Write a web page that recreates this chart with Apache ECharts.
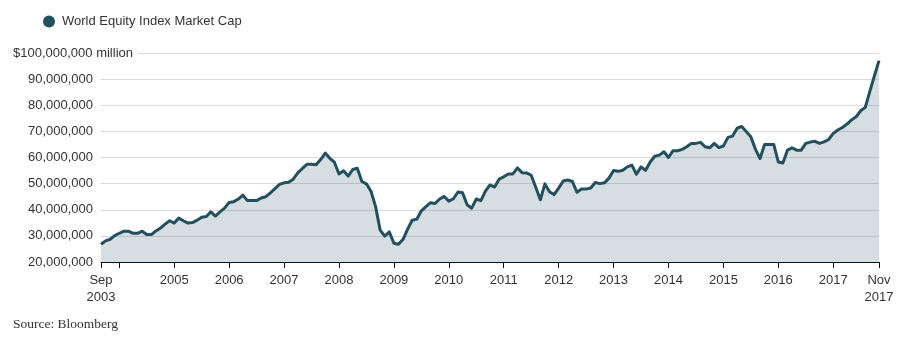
<!DOCTYPE html>
<html>
<head>
<meta charset="utf-8">
<script src="https://cdn.jsdelivr.net/npm/echarts@6/dist/echarts.min.js"></script>
<style>
html,body{margin:0;padding:0;background:#fff;}
#chart{width:903px;height:364px;}
</style>
</head>
<body>
<div id="chart"></div>
<script>
// Monthly series, Sep 2003 .. Nov 2017 (values in millions of the axis unit, i.e. x 1,000,000)
const startYear = 2003, startMonth = 9, monthCount = 171;
const seriesName = 'World Equity Index Market Cap';
const values2003_2007 = [
  26.8, 28.1, 28.7, 30.1, 31.0, 31.8, 31.8, 31.0, 31.0, 31.8, 30.5, 30.5,
  31.9, 33.0, 34.5, 35.8, 34.9, 36.8, 35.8, 34.9, 35.1, 36.0, 37.1, 37.4,
  39.2, 37.6, 39.2, 40.6, 42.8, 43.1, 44.1, 45.6, 43.5, 43.5, 43.5, 44.5,
  45.0, 46.4, 48.1, 49.7, 50.3, 50.5, 51.7, 54.1, 55.8, 57.4, 57.4, 57.2,
  59.2, 61.7, 59.7, 58.2, 53.7, 54.9, 52.9, 55.4
];
const values2008_2012 = [
  55.9, 50.8, 49.9, 47.1, 41.2, 32.2, 29.9, 31.5, 27.2, 26.8, 28.7, 32.6,
  36.0, 36.4, 39.6, 41.2, 42.7, 42.4, 44.1, 45.1, 43.3, 44.2, 46.8, 46.5,
  41.9, 40.6, 44.1, 43.5, 47.1, 49.5, 48.7, 51.7, 52.6, 53.7, 53.7, 56.0,
  54.2, 54.1, 53.2, 48.6, 43.8, 49.9, 46.9, 45.8, 48.3, 51.0, 51.4, 50.8,
  46.7, 47.9, 47.9, 48.3, 50.4, 50.0, 50.3, 52.1
];
const values2013_2017 = [
  55.0, 54.7, 55.1, 56.4, 57.1, 53.6, 56.4, 55.1, 58.3, 60.5, 60.9, 62.2,
  60.0, 62.6, 62.6, 63.1, 64.1, 65.4, 65.4, 65.8, 64.1, 63.7, 65.4, 63.8,
  64.4, 67.7, 68.2, 71.2, 71.9, 69.9, 67.9, 63.2, 59.6, 65.0, 65.0, 65.0,
  58.3, 57.9, 62.8, 63.7, 62.8, 62.8, 65.4, 65.9, 66.2, 65.4, 66.0, 66.9,
  69.2, 70.5, 71.5, 72.8, 74.4, 75.6, 77.9, 79.2, 85.3, 91.3, 97.1
];
const yTicks = [20, 30, 40, 50, 60, 70, 80, 90, 100];
const topTickLabel = '$100,000,000 million';
const firstLabel = 'Sep\n2003';
const lastLabel = 'Nov\n2017';
const hiddenYearLabels = ['2004'];
const sourceText = 'Source: Bloomberg';

// build month categories
const categories = [];
for (let i = 0; i < monthCount; i++) {
  const t = (startMonth - 1) + i;
  const y = startYear + Math.floor(t / 12);
  const m = (t % 12) + 1;
  categories.push(y + '-' + (m < 10 ? '0' + m : '' + m));
}
const values = values2003_2007.concat(values2008_2012, values2013_2017);

const lineColor = '#23505f';
const textColor = '#333';
const font = 'Liberation Sans, Arial, sans-serif';

const isTick = (idx) => idx === 0 || idx === categories.length - 1 || categories[idx].slice(5) === '01';

const chart = echarts.init(document.getElementById('chart'), null, {renderer: 'canvas'});
chart.setOption({
  animation: false,
  backgroundColor: '#fff',
  textStyle: {fontFamily: font},
  legend: {
    left: 38, top: 10,
    icon: 'circle', itemWidth: 12, itemHeight: 12, itemGap: 8,
    textStyle: {fontSize: 13, color: textColor, fontFamily: font, padding: [0, 0, 0, 2]},
    data: [seriesName]
  },
  grid: {left: 101, right: 24, top: 53, bottom: 102, containLabel: false},
  xAxis: {
    type: 'category',
    data: categories,
    boundaryGap: false,
    axisLine: {show: true, lineStyle: {color: '#111', width: 1}},
    axisTick: {
      show: true, length: 6, lineStyle: {color: '#111'},
      interval: (idx) => isTick(idx)
    },
    axisLabel: {
      color: textColor, fontSize: 13, fontFamily: font, margin: 10, lineHeight: 17,
      interval: (idx) => isTick(idx) && hiddenYearLabels.indexOf(categories[idx].slice(0, 4)) < 0
        || idx === 0 || idx === categories.length - 1,
      formatter: (val, idx) => {
        if (idx === 0) return firstLabel;
        if (idx === categories.length - 1) return lastLabel;
        return val.slice(0, 4);
      }
    },
    splitLine: {show: false}
  },
  yAxis: {
    type: 'value',
    min: yTicks[0], max: yTicks[yTicks.length - 1], interval: 10,
    axisLine: {show: false},
    axisTick: {show: false},
    axisLabel: {
      color: textColor, fontSize: 13, fontFamily: font, margin: 8,
      formatter: (v) => v === yTicks[yTicks.length - 1] ? '' : (v * 1000000).toLocaleString('en-US')
    },
    splitLine: {show: true, lineStyle: {color: '#dcdcdc', width: 1}}
  },
  graphic: [
    {
      type: 'text', left: 13, top: 45, z: 100,
      style: {
        text: topTickLabel, fill: textColor, font: '13px ' + font,
        backgroundColor: '#fff', padding: [2, 5, 2, 0]
      }
    },
    {
      type: 'text', left: 13, top: 317, z: 100,
      style: {text: sourceText, fill: '#333', font: '13.5px "Liberation Serif", "DejaVu Serif", serif'}
    }
  ],
  series: [{
    name: seriesName,
    type: 'line',
    data: values,
    showSymbol: false,
    symbol: 'circle',
    itemStyle: {color: lineColor},
    lineStyle: {color: lineColor, width: 3, join: 'round'},
    areaStyle: {color: lineColor, opacity: 0.19},
    z: 3
  }]
});
</script>
</body>
</html>
